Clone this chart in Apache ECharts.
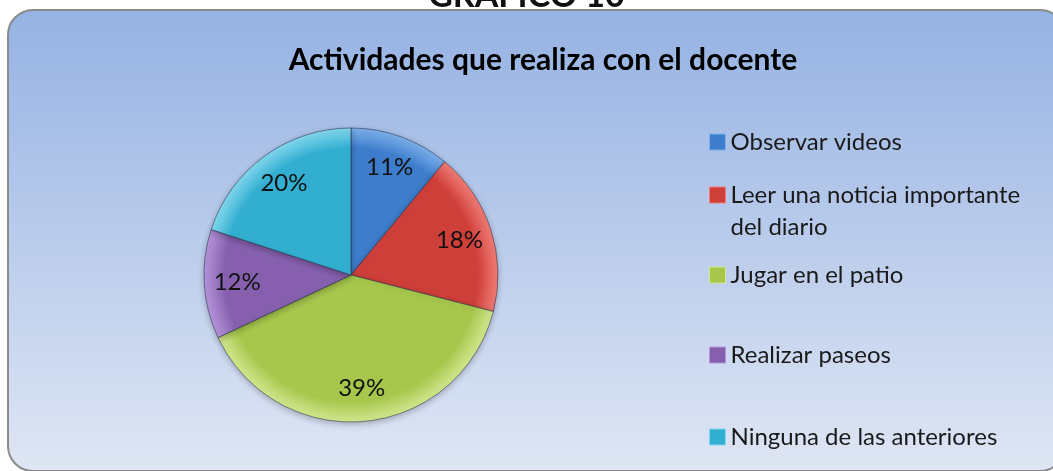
<!DOCTYPE html>
<html>
<head>
<meta charset="utf-8">
<script src="https://cdn.jsdelivr.net/npm/echarts@6/dist/echarts.min.js"></script>
<style>
  html, body { margin: 0; padding: 0; background: #fff; }
  #chart { width: 1053px; height: 471px; }
</style>
</head>
<body>
<div id="chart"></div>
<script>
// datos del grafico
const names = ['Observar videos', 'Leer una noticia importante del diario', 'Jugar en el patio', 'Realizar paseos', 'Ninguna de las anteriores'];
const values = [11, 18, 39, 12, 20];
const colors = ['#3d7dcb', '#cf3f3a', '#a6c64c', '#8660ae', '#32aed0'];
const rims = ['#7db0ec', '#f07d76', '#d2e78e', '#b694da', '#82d8ee'];
const chartTitle = 'Actividades que realiza con el docente';
const headTitle = 'GRAFICO 10';

const font = 'Lato, "Open Sans", sans-serif';
const cx = 351, cy = 275, R = 147;

const pieData = names.map((n, i) => ({
  name: n,
  value: values[i],
  itemStyle: {
    color: {
      type: 'radial', x: cx, y: cy, r: R, global: true,
      colorStops: [
        { offset: 0, color: colors[i] },
        { offset: 0.86, color: colors[i] },
        { offset: 1, color: rims[i] }
      ]
    }
  }
}));

// una leyenda por item, para poder ubicar cada una como en Excel
const legendTops = [126, 147, 259, 339, 421];
const legends = names.map((n, i) => {
  const twoLines = i === 1;
  return {
    orient: 'vertical',
    left: 709,
    top: legendTops[i],
    padding: 0,
    itemWidth: 16,
    itemHeight: 16,
    icon: 'rect',
    selectedMode: false,
    // linea vacia arriba para que el cuadro quede junto a la primera linea
    formatter: twoLines ? () => ' \nLeer una noticia importante\ndel diario' : '{name}',
    textStyle: { fontFamily: font, fontSize: 24, color: '#1a1a1a', lineHeight: 32 },
    data: [{ name: n, itemStyle: { color: colors[i], borderColor: rims[i], borderWidth: 1 } }]
  };
});

const chart = echarts.init(document.getElementById('chart'));
chart.setOption({
  animation: false,
  graphic: [
    {
      type: 'rect', z: -10,
      shape: { x: 8, y: 10, width: 1057, height: 461, r: 25 },
      style: {
        fill: {
          type: 'linear', x: 0, y: 0, x2: 0, y2: 1,
          colorStops: [
            { offset: 0, color: '#95b2e3' },
            { offset: 1, color: '#dfe6f4' }
          ]
        },
        stroke: '#8a8a8a', lineWidth: 2
      }
    },
    {
      type: 'text', left: 'center', top: -21,
      style: { text: headTitle, font: 'bold 34px ' + font, fill: '#111' }
    }
  ],
  title: {
    text: chartTitle,
    left: 538, textAlign: 'center', top: 40,
    textStyle: { fontFamily: font, fontSize: 30, fontWeight: 'bold', color: '#000' }
  },
  legend: legends,
  series: [
    {
      type: 'pie',
      center: [cx, cy],
      radius: R,
      startAngle: 90,
      clockwise: true,
      silent: true,
      label: { show: false },
      labelLine: { show: false },
      itemStyle: {
        borderColor: 'rgba(40,50,70,0.55)', borderWidth: 1,
        shadowColor: 'rgba(0,0,0,0.25)', shadowBlur: 6, shadowOffsetY: 2
      },
      data: pieData
    },
    {
      // capa transparente solo para ubicar las etiquetas de porcentaje
      type: 'pie',
      center: [cx, cy],
      radius: [75, R],
      startAngle: 90,
      clockwise: true,
      silent: true,
      itemStyle: { color: 'rgba(0,0,0,0)' },
      label: {
        show: true, position: 'inside',
        formatter: p => p.value + '%',
        fontFamily: font, fontSize: 24, color: '#111'
      },
      labelLine: { show: false },
      data: names.map((n, i) => ({ name: n, value: values[i] }))
    }
  ]
});
</script>
</body>
</html>
